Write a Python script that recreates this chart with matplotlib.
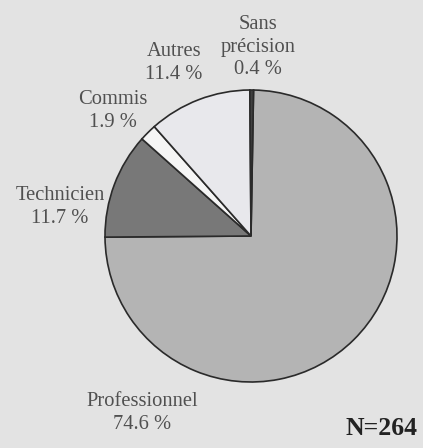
import matplotlib.pyplot as plt

# répartition des répondants par catégorie d'emploi
categories = ['Professionnel', 'Technicien', 'Commis', 'Autres', 'Sans\nprécision']
pourcentages = [74.6, 11.7, 1.9, 11.4, 0.4]
couleurs = ['#b4b4b4', '#787878', '#f5f5f5', '#e8e8ec', '#404040']
n_total = 264

# position des étiquettes (en pixels, origine en bas à gauche)
pos_labels = [(142, 35), (60, 241), (113, 337), (174, 385), (258, 401)]

fig = plt.figure(figsize=(4.23, 4.48), dpi=100)
fig.patch.set_facecolor('#e3e3e3')
ax = fig.add_axes([0, 0, 1, 1])
ax.set_facecolor('#e3e3e3')

ax.pie(pourcentages, colors=couleurs, startangle=89, counterclock=False,
       center=(251, 212), radius=146,
       wedgeprops=dict(edgecolor='#2a2a2a', linewidth=1.2))

ax.set_xlim(0, 423)
ax.set_ylim(0, 448)
ax.axis('off')

font = {'family': 'Liberation Serif', 'size': 14.8, 'color': '#505050'}
for cat, pct, (x, y) in zip(categories, pourcentages, pos_labels):
    ax.text(x, y, '%s\n%.1f %%' % (cat, pct), ha='center', va='center',
            multialignment='center', linespacing=1.25, fontdict=font)

ax.text(417, 20, 'N=%d' % n_total, ha='right', va='center',
        family='Liberation Serif', size=18.5, weight='bold', color='#222222')

plt.savefig('out.png', dpi=100, facecolor=fig.get_facecolor())
